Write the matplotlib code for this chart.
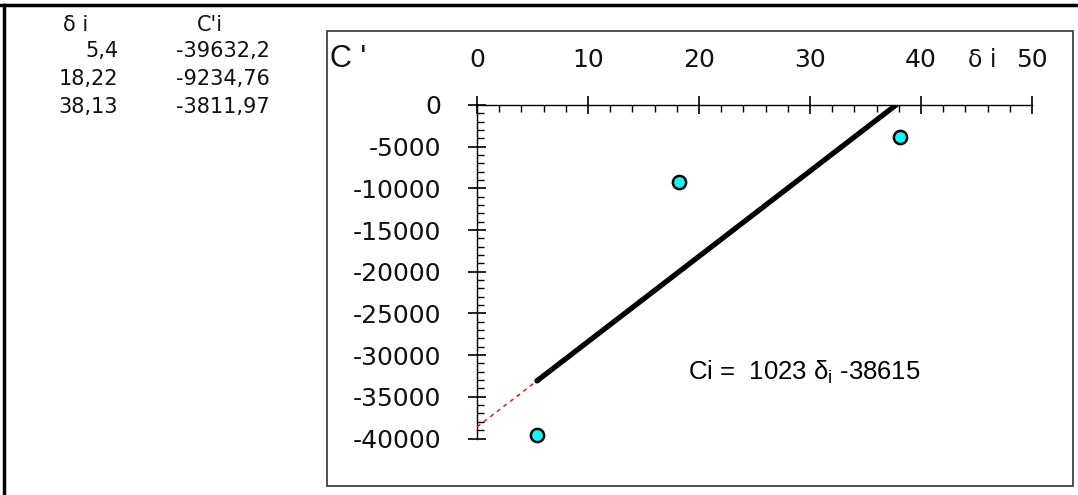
import matplotlib
matplotlib.use("Agg")
import matplotlib.pyplot as plt
from matplotlib.ticker import MultipleLocator, FuncFormatter
from matplotlib.lines import Line2D
from matplotlib.patches import Rectangle
import numpy as np

# ---- data ----
delta_i = [5.4, 18.22, 38.13]
c_prime = [-39632.2, -9234.76, -3811.97]
delta_labels = ["5,4", "18,22", "38,13"]
c_labels = ["-39632,2", "-9234,76", "-3811,97"]
slope = 1023
intercept = -38615
x_ticks = [0, 10, 20, 30, 40, 50]
y_ticks = [0, -5000, -10000, -15000, -20000, -25000, -30000, -35000, -40000]

plt.rcParams['mathtext.fontset'] = 'custom'
plt.rcParams['mathtext.rm'] = 'Liberation Sans'
plt.rcParams['mathtext.it'] = 'Liberation Sans'

W, H = 1078, 495
fig = plt.figure(figsize=(W / 100, H / 100), dpi=100)

def fx(px):
    return px / W

def fy(py):
    return 1 - py / H

# outer frame lines (top and left)
fig.add_artist(Line2D([0, 1], [fy(5), fy(5)], color='black', lw=2.5))
fig.add_artist(Line2D([fx(3.5), fx(3.5)], [fy(5), 0], color='black', lw=2.5))

# inner chart box
fig.add_artist(Rectangle((fx(327), fy(486)), fx(1073) - fx(327), fy(31) - fy(486),
                         fill=False, edgecolor='#333333', lw=1.2))

# table
tfont = dict(family='DejaVu Sans', fontsize=15, color='#111111')
fig.text(fx(63), fy(25), "δ i", ha='left', va='center', **tfont)
fig.text(fx(210), fy(25), "C'i", ha='center', va='center', **tfont)
for k, (a, b) in enumerate(zip(delta_labels, c_labels)):
    yy = fy(51 + 28 * k)
    fig.text(fx(118), yy, a, ha='right', va='center', **tfont)
    fig.text(fx(270), yy, b, ha='right', va='center', **tfont)

# axes
ax = fig.add_axes([fx(477), fy(438.5), fx(1032) - fx(477), fy(105) - fy(438.5)])
ax.set_xlim(0, 50)
ax.set_ylim(-40000, 0)
ax.patch.set_alpha(0)
for s in ['right', 'bottom']:
    ax.spines[s].set_visible(False)
ax.spines['top'].set_linewidth(1)
ax.spines['left'].set_linewidth(1)
ax.xaxis.tick_top()
ax.set_xticks(x_ticks)
ax.set_yticks(y_ticks)
ax.xaxis.set_minor_locator(MultipleLocator(2))
ax.yaxis.set_minor_locator(MultipleLocator(1000))
ax.tick_params(axis='x', which='major', direction='inout', length=13, width=1.2,
               labelsize=18, pad=17)
ax.tick_params(axis='y', which='major', direction='inout', length=13, width=1.2,
               labelsize=18, pad=19)
ax.tick_params(axis='x', which='minor', direction='in', length=5, width=1)
ax.tick_params(axis='y', which='minor', direction='in', length=5, width=1)
for lab in ax.get_xticklabels() + ax.get_yticklabels():
    lab.set_family('DejaVu Sans')
    lab.set_color('#111111')
ax.yaxis.set_major_formatter(FuncFormatter(lambda v, p: f"{int(v)}"))
ax.xaxis.set_major_formatter(FuncFormatter(lambda v, p: f"{int(v)}"))

# fit line: solid from first point to zero crossing, dashed red extrapolation
x0 = delta_i[0]
x_zero = -intercept / slope
xs = np.array([x0, x_zero])
ax.plot(xs, slope * xs + intercept, color='black', lw=3.8, solid_capstyle='round', zorder=3)
xd = np.array([0, x0])
ax.plot(xd, slope * xd + intercept, color='red', lw=1, ls=(0, (3, 3)), zorder=3)

ax.plot(delta_i, c_prime, ls='none', marker='o', markersize=9.5,
        markerfacecolor='#00FFFF', markeredgecolor='black', markeredgewidth=1.8,
        clip_on=False, zorder=4)

# labels
fig.text(fx(330), fy(59), "C '", ha='left', va='center', family='Liberation Sans',
         fontsize=22, color='#111111')
fig.text(fx(968), fy(60), "δ i", ha='left', va='center', family='DejaVu Sans',
         fontsize=17, color='#111111')

ax.text(19.0, -32100, r"Ci =  1023 $\delta_{\rm i}$ -38615", ha='left', va='center',
        family='Liberation Sans', fontsize=18.5)

fig.savefig("out.png", dpi=100)
